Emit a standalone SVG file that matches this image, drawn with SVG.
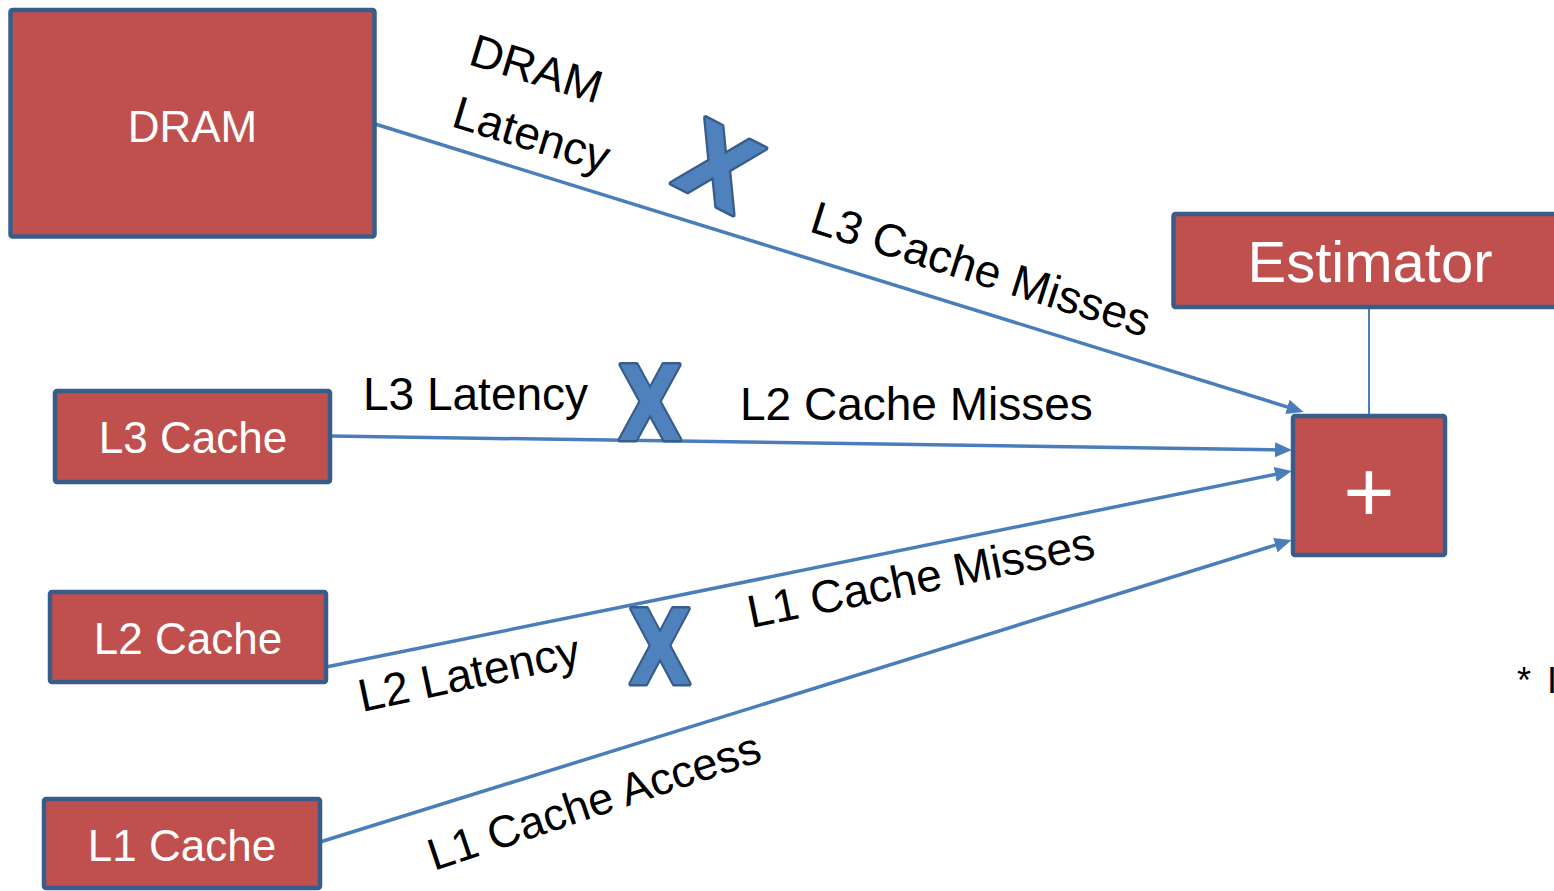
<svg xmlns="http://www.w3.org/2000/svg" width="1554" height="891" viewBox="0 0 1554 891">
<defs>
<style>
.box{fill:#C0504D;stroke:#385D8A;stroke-width:4.5;stroke-linejoin:round}
.nt{fill:#FFFFFF;font-family:"Liberation Sans",Arial,sans-serif;font-size:44px;text-anchor:middle}
.lbl{fill:#000000;font-family:"Liberation Sans",Arial,sans-serif;font-size:46px}
.conn{stroke:#4A7EBB;stroke-width:3.5;fill:none}
.xm{fill:#4F81BD;stroke:#385D8A;stroke-width:5;stroke-linejoin:round;font-family:"DejaVu Sans",sans-serif;font-weight:bold;font-size:104px;text-anchor:middle;paint-order:stroke}
</style>
<marker id="arr" markerUnits="userSpaceOnUse" markerWidth="18" markerHeight="16" refX="8" refY="8" orient="auto">
<path d="M0,0.5 L17,8 L0,15.5 z" fill="#4A7EBB"/>
</marker>
</defs>
<rect width="1554" height="891" fill="#FFFFFF"/>
<g id="connectors">
<line class="conn" x1="375" y1="124" x2="1295" y2="409.3" marker-end="url(#arr)"/>
<line class="conn" x1="330" y1="436" x2="1283" y2="449.9" marker-end="url(#arr)"/>
<line class="conn" x1="326" y1="667" x2="1283" y2="472.8" marker-end="url(#arr)"/>
<line class="conn" x1="320" y1="842" x2="1283" y2="542.7" marker-end="url(#arr)"/>
<line x1="1369" y1="308" x2="1369" y2="415" stroke="#4A7EBB" stroke-width="2"/>
</g>
<g id="dram">
<rect class="box" x="10.5" y="10" width="364" height="226.5" rx="2"/>
<text class="nt" x="192.5" y="142">DRAM</text>
</g>
<g id="l3cache">
<rect class="box" x="55" y="391" width="275" height="91" rx="2"/>
<text class="nt" x="193" y="453">L3 Cache</text>
</g>
<g id="l2cache">
<rect class="box" x="50" y="592" width="276" height="90" rx="2"/>
<text class="nt" x="188" y="654">L2 Cache</text>
</g>
<g id="l1cache">
<rect class="box" x="44" y="799" width="276" height="89" rx="2"/>
<text class="nt" x="182" y="861">L1 Cache</text>
</g>
<g id="estimator">
<rect class="box" x="1173.5" y="214" width="400" height="93" rx="2"/>
<text class="nt" x="1370" y="282" style="font-size:58px">Estimator</text>
</g>
<g id="plus">
<rect class="box" x="1293" y="416" width="152" height="139" rx="2"/>
<text class="nt" x="1369" y="522" style="font-size:88px">+</text>
</g>
<g id="labels">
<text class="lbl" transform="translate(467,64) rotate(17)">DRAM</text>
<text class="lbl" transform="translate(450,126) rotate(17)">Latency</text>
<text class="lbl" transform="translate(808,231) rotate(17.5)">L3 Cache Misses</text>
<text class="lbl" x="363" y="410">L3 Latency</text>
<text class="lbl" x="740" y="420">L2 Cache Misses</text>
<text class="lbl" transform="translate(362,712) rotate(-12)">L2 Latency</text>
<text class="lbl" transform="translate(751,628) rotate(-11.5)">L1 Cache Misses</text>
<text class="lbl" transform="translate(434,871) rotate(-18.5)" style="font-size:45px">L1 Cache Access</text>
<text x="1517 1532 1547" y="693" style="font-family:'Liberation Sans',Arial,sans-serif;font-size:36px;fill:#000">* I</text>
</g>
<g id="xmarks">
<text class="xm" transform="translate(719,166) rotate(27) scale(0.92,0.98)" x="0" y="38">X</text>
<text class="xm" transform="translate(650,402) scale(0.8,1)" x="0" y="38">X</text>
<text class="xm" transform="translate(660,646) scale(0.78,1)" x="0" y="38">X</text>
</g>
</svg>
